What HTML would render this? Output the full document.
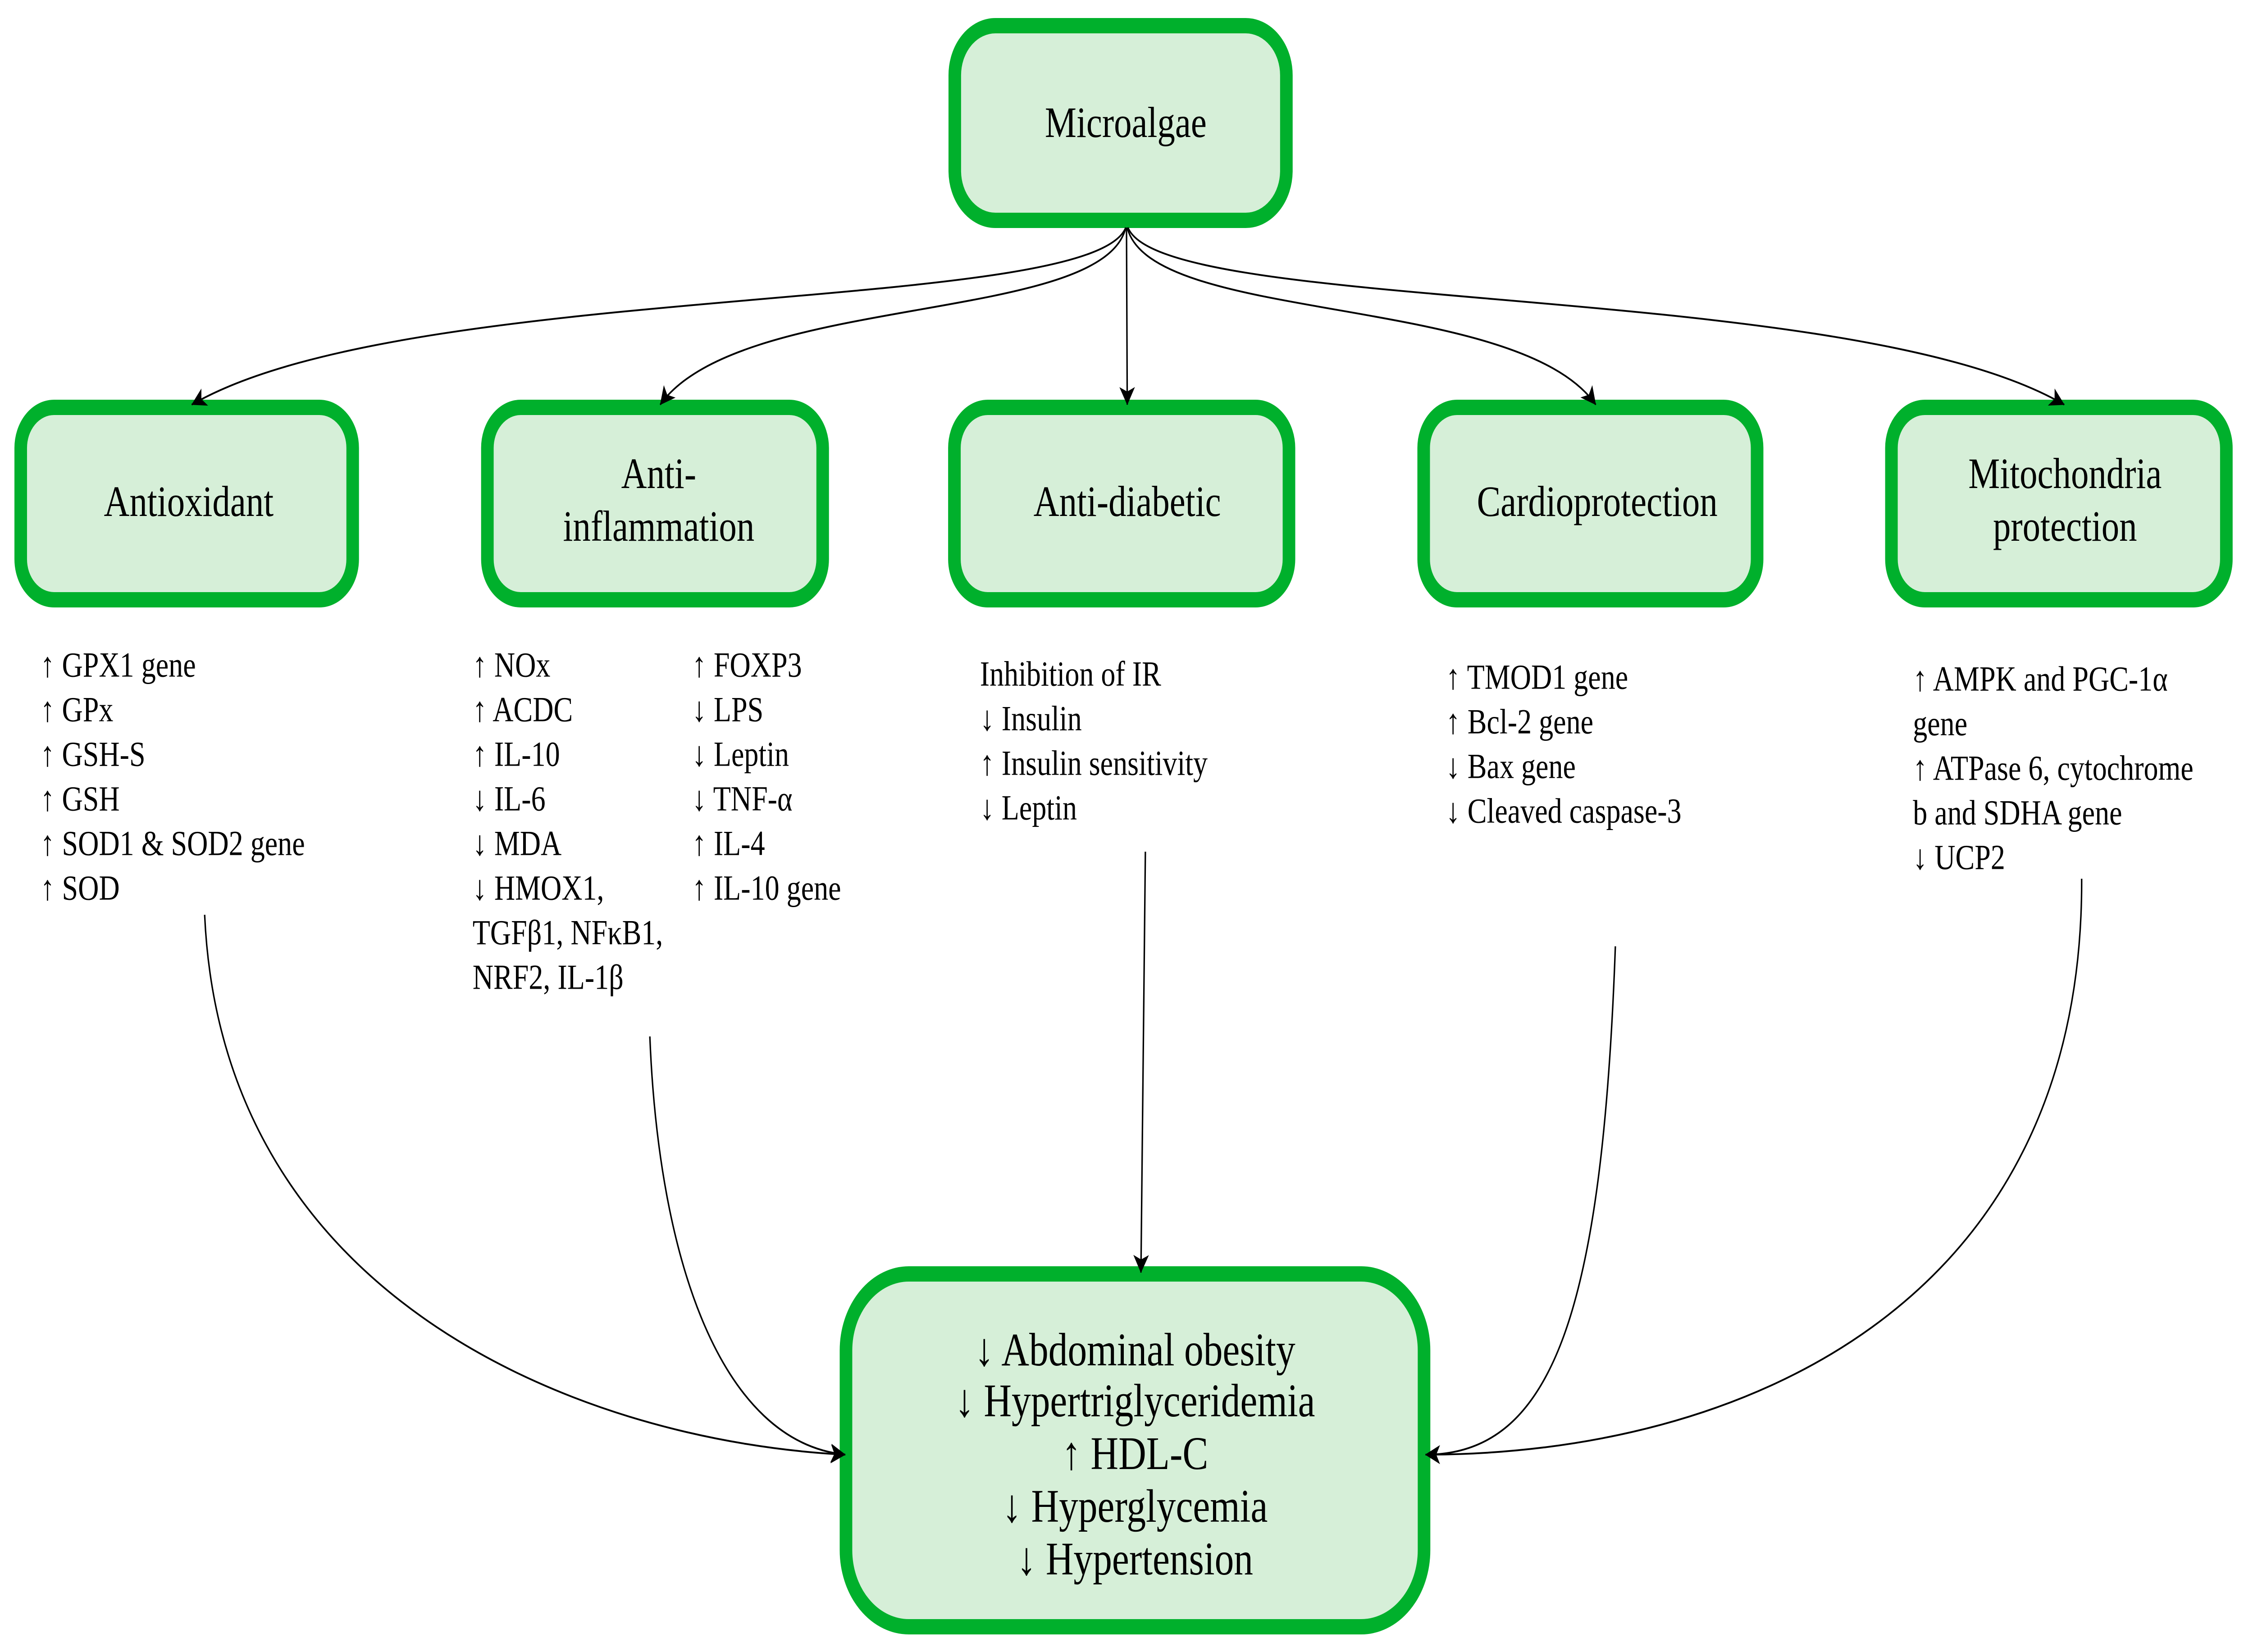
<!DOCTYPE html>
<html><head><meta charset="utf-8"><style>html,body{margin:0;padding:0;background:#fff;width:100%;height:100%;overflow:hidden}svg{display:block;width:100vw;height:100vh}</style></head>
<body>
<svg viewBox="0 0 6088 3666" preserveAspectRatio="none" xmlns="http://www.w3.org/2000/svg" font-family="'Liberation Serif', serif">
<defs>
<marker id="a" viewBox="0 0 10 10" refX="9" refY="5" markerWidth="10" markerHeight="10" markerUnits="userSpaceOnUse" orient="auto" style="overflow:visible">
<path d="M-30,-16 L10,5 L-30,26 L-20,5 Z" fill="#000"/>
</marker>
</defs>
<g fill="#d6efd8" stroke="#00b02c" stroke-width="34">
<rect x="2580" y="57" width="896" height="432" rx="110"/>
<rect x="56" y="904" width="897" height="427" rx="90"/>
<rect x="1317" y="904" width="906" height="427" rx="90"/>
<rect x="2579" y="904" width="904" height="427" rx="90"/>
<rect x="3847" y="904" width="901" height="427" rx="90"/>
<rect x="5111" y="904" width="905" height="427" rx="90"/>
<rect x="2286" y="2827" width="1562" height="783" rx="170"/>
</g>
<g fill="none" stroke="#000" stroke-width="4">
<path d="M3042,505 C2950,700 1100,620 518,898" marker-end="url(#a)"/>
<path d="M3042,505 C2980,720 2000,650 1784,898" marker-end="url(#a)"/>
<path d="M3044,505 L3046,898" marker-end="url(#a)"/>
<path d="M3046,505 C3110,720 4100,650 4312,898" marker-end="url(#a)"/>
<path d="M3048,505 C3140,700 5000,620 5578,898" marker-end="url(#a)"/>
<path d="M553,2030 C600,2900 1600,3200 2284,3228" marker-end="url(#a)"/>
<path d="M1756,2300 C1780,2800 1950,3200 2284,3228" marker-end="url(#a)"/>
<path d="M3095,1890 L3083,2824" marker-end="url(#a)"/>
<path d="M4365,2100 C4330,2900 4200,3228 3852,3228" marker-end="url(#a)"/>
<path d="M5625,1950 C5630,2900 4700,3228 3852,3228" marker-end="url(#a)"/>
</g>
<g font-size="96" text-anchor="middle" dominant-baseline="central" fill="#000">
<text x="3042" y="273">Microalgae</text>
<text x="510" y="1114">Antioxidant</text>
<text x="1780" y="1052">Anti-</text>
<text x="1780" y="1169">inflammation</text>
<text x="3046" y="1114">Anti-diabetic</text>
<text x="4316" y="1114">Cardioprotection</text>
<text x="5580" y="1052">Mitochondria</text>
<text x="5580" y="1169">protection</text>
</g>
<g font-size="104" text-anchor="middle" dominant-baseline="central" fill="#000">
<text x="3067" y="2995">↓ Abdominal obesity</text>
<text x="3067" y="3108">↓ Hypertriglyceridemia</text>
<text x="3067" y="3225">↑ HDL-C</text>
<text x="3067" y="3342">↓ Hyperglycemia</text>
<text x="3067" y="3459">↓ Hypertension</text>
</g>
<g font-size="78" dominant-baseline="central" fill="#000">
<text x="109" y="1476">↑ GPX1 gene</text>
<text x="109" y="1575">↑ GPx</text>
<text x="109" y="1674">↑ GSH-S</text>
<text x="109" y="1773">↑ GSH</text>
<text x="109" y="1872">↑ SOD1 &amp; SOD2 gene</text>
<text x="109" y="1971">↑ SOD</text>

<text x="1277" y="1476">↑ NOx</text>
<text x="1277" y="1575">↑ ACDC</text>
<text x="1277" y="1674">↑ IL-10</text>
<text x="1277" y="1773">↓ IL-6</text>
<text x="1277" y="1872">↓ MDA</text>
<text x="1277" y="1971">↓ HMOX1,</text>
<text x="1277" y="2070">TGFβ1, NFκB1,</text>
<text x="1277" y="2169">NRF2, IL-1β</text>

<text x="1870" y="1476">↑ FOXP3</text>
<text x="1870" y="1575">↓ LPS</text>
<text x="1870" y="1674">↓ Leptin</text>
<text x="1870" y="1773">↓ TNF-α</text>
<text x="1870" y="1872">↑  IL-4</text>
<text x="1870" y="1971">↑ IL-10 gene</text>

<text x="2648" y="1496">Inhibition of IR</text>
<text x="2648" y="1595">↓ Insulin</text>
<text x="2648" y="1694">↑ Insulin sensitivity</text>
<text x="2648" y="1793">↓ Leptin</text>

<text x="3907" y="1503">↑ TMOD1 gene</text>
<text x="3907" y="1602">↑ Bcl-2 gene</text>
<text x="3907" y="1701">↓ Bax gene</text>
<text x="3907" y="1800">↓ Cleaved caspase-3</text>

<text x="5169" y="1507">↑ AMPK and PGC-1α</text>
<text x="5169" y="1606">gene</text>
<text x="5169" y="1705">↑ ATPase 6, cytochrome</text>
<text x="5169" y="1804">b and SDHA gene</text>
<text x="5169" y="1903">↓ UCP2</text>
</g>
</svg>
</body></html>
